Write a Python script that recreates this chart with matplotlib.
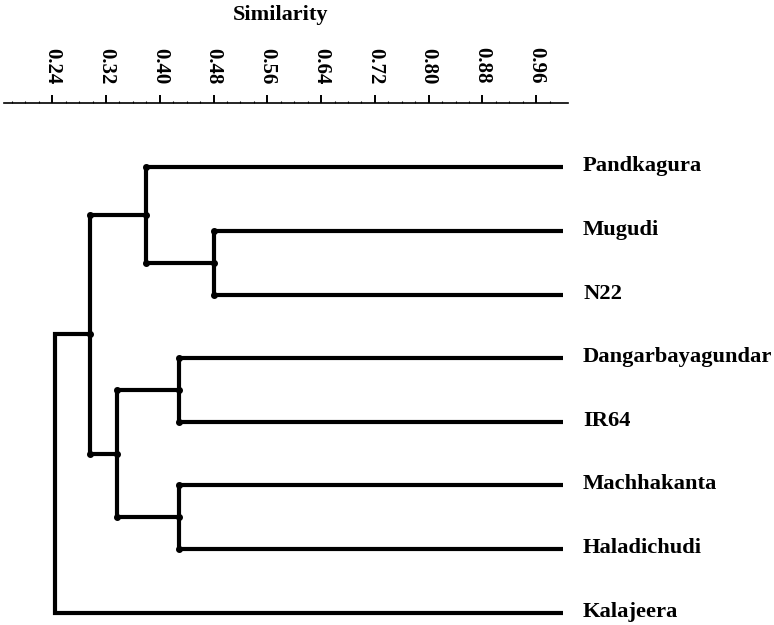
import matplotlib
matplotlib.use("Agg")
import matplotlib.pyplot as plt
import numpy as np

# ---- data ----
leaves = ["Pandkagura", "Mugudi", "N22", "Dangarbayagundar", "IR64",
          "Machhakanta", "Haladichudi", "Kalajeera"]
# merges: (left child, right child, similarity); children are leaf names or node ids "n0".."n6"
merge_a = ["Mugudi", "Dangarbayagundar", "Machhakanta", "Pandkagura", "n1", "n3", "n5"]
merge_b = ["N22", "IR64", "Haladichudi", "n0", "n2", "n4", "Kalajeera"]
merge_sim = [0.481, 0.429, 0.429, 0.379, 0.336, 0.296, 0.244]
leaf_sim = 1.0
tick_values = [0.24, 0.32, 0.40, 0.48, 0.56, 0.64, 0.72, 0.80, 0.88, 0.96]
tick_labels = ["0.24", "0.32", "0.40", "0.48", "0.56", "0.64", "0.72", "0.80", "0.88", "0.96"]
axis_title = "Similarity"

W, H = 774, 625
fig = plt.figure(figsize=(W / 100, H / 100), dpi=100)
ax = fig.add_axes([4.5 / W, 0.0, (568 - 4.5) / W, 1 - 102.7 / H])
ax.set_xlim(0.1689, 1.0074)
ax.set_ylim(7.193, -1.015)

font = dict(family=["Liberation Serif", "DejaVu Serif"], weight="bold")

# positions
pos = {name: (leaf_sim, i) for i, name in enumerate(leaves)}
lw = 3.0
dot_pts = []
n_merge = len(merge_sim)
for k, (a, b, s) in enumerate(zip(merge_a, merge_b, merge_sim)):
    xa, ya = pos[a]
    xb, yb = pos[b]
    ax.plot([xa, s, s, xb], [ya, ya, yb, yb], color="black", lw=lw,
            solid_capstyle="butt", solid_joinstyle="miter", zorder=2)
    ym = (ya + yb) / 2
    pos[f"n{k}"] = (s, ym)
    if k < n_merge - 1:
        dot_pts += [(s, ya), (s, yb), (s, ym)]

dx = [p[0] for p in dot_pts]
dy = [p[1] for p in dot_pts]
ax.plot(dx, dy, "o", color="black", ms=4.0, zorder=3)

# leaf labels
for i, name in enumerate(leaves):
    ax.annotate(name, xy=(leaf_sim, i), xytext=(14.4, -2.9), textcoords="offset points",
                ha="left", va="baseline", fontsize=16.2, annotation_clip=False, **font)

# axis styling
for sp in ["bottom", "left", "right"]:
    ax.spines[sp].set_visible(False)
ax.spines["top"].set_linewidth(1.2)
ax.xaxis.set_ticks_position("top")
ax.set_xticks(tick_values)
ax.set_xticklabels(tick_labels, rotation=270, fontsize=15, **font)
ax.set_xticks(np.arange(0.18, 1.0, 0.02), minor=True)
ax.tick_params(axis="x", which="major", direction="out", length=5.5, width=1.4, pad=8)
ax.tick_params(axis="x", which="minor", direction="out", length=1.2, width=0.8)
ax.set_yticks([])

fig.text(281 / W, 1 - 20 / H, axis_title, ha="center", va="baseline", fontsize=16, **font)

fig.savefig("out.png", dpi=100)
